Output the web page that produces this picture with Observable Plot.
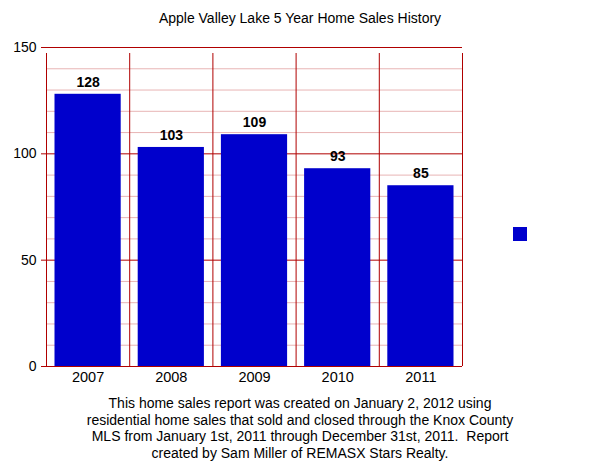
<!DOCTYPE html>
<html>
<head>
<meta charset="utf-8">
<script src="https://cdn.jsdelivr.net/npm/d3@7"></script>
<script src="https://cdn.jsdelivr.net/npm/@observablehq/plot@0.6"></script>
<style>
  html, body { margin: 0; padding: 0; background: #fff; }
  body { width: 600px; height: 463px; position: relative; font-family: "Liberation Sans", Arial, sans-serif; color: #000; }
  #title { height: 30px; line-height: 36px; text-align: center; font-size: 14px; }
  #chart svg { display: block; }
  #caption { text-align: center; font-size: 14px; line-height: 16.5px; margin-top: 5px; }
  #legend { position: absolute; left: 513px; top: 227px; width: 14px; height: 14px; }
</style>
</head>
<body>
<div id="title">Apple Valley Lake 5 Year Home Sales History</div>
<div id="chart"></div>
<div id="caption">This home sales report was created on January 2, 2012 using<br>residential home sales that sold and closed through the Knox County<br>MLS from January 1st, 2011 through December 31st, 2011.&nbsp; Report<br>created by Sam Miller of REMASX Stars Realty.</div>
<div id="legend"></div>
<script>
const years = ["2007", "2008", "2009", "2010", "2011"];
const sales = [128, 103, 109, 93, 85];
const yTicks = [0, 50, 100, 150];
const minorTicks = [10, 20, 30, 40, 60, 70, 80, 90, 110, 120, 130, 140];
const barColor = "#0000cc";
const gridColor = "#b00000";
const minorColor = "#e8b4b4";

const data = years.map((y, i) => ({year: y, i, sales: sales[i]}));

const chart = Plot.plot({
  width: 600,
  height: 360,
  marginTop: 17,
  marginBottom: 24,
  marginLeft: 46,
  marginRight: 138,
  style: {fontFamily: "'Liberation Sans', Arial, sans-serif", fontSize: "14px", color: "#000", background: "transparent", overflow: "visible"},
  x: {domain: [0, years.length]},
  y: {domain: [0, 150]},
  marks: [
    Plot.ruleY(minorTicks, {x1: 0, x2: years.length, stroke: minorColor, strokeWidth: 1}),
    Plot.ruleY(yTicks, {x1: 0, x2: years.length, stroke: gridColor, strokeWidth: 1}),
    Plot.ruleX(d3.range(years.length + 1), {y1: 0, y2: 150, stroke: gridColor, strokeWidth: 1, insetBottom: -6}),
    Plot.rectY(data, {x1: "i", x2: d => d.i + 1, y: "sales", fill: barColor, insetLeft: 8.5, insetRight: 8.5}),
    Plot.text(data, {x: d => d.i + 0.5, y: "sales", text: d => String(d.sales), dy: -12, fontWeight: "bold", fontSize: 14, fill: "#000"}),
    Plot.axisY(yTicks, {anchor: "left", tickSize: 5, tickPadding: 5, stroke: gridColor, fill: "#000", fontSize: 14, label: null}),
    Plot.axisX(data.map(d => d.i + 0.5), {anchor: "bottom", tickSize: 0, tickPadding: 5, tickFormat: d => years[Math.floor(d)], fontSize: 14.5, fill: "#000", label: null})
  ]
});
document.getElementById("chart").appendChild(chart);
document.getElementById("legend").style.background = barColor;
</script>
</body>
</html>
